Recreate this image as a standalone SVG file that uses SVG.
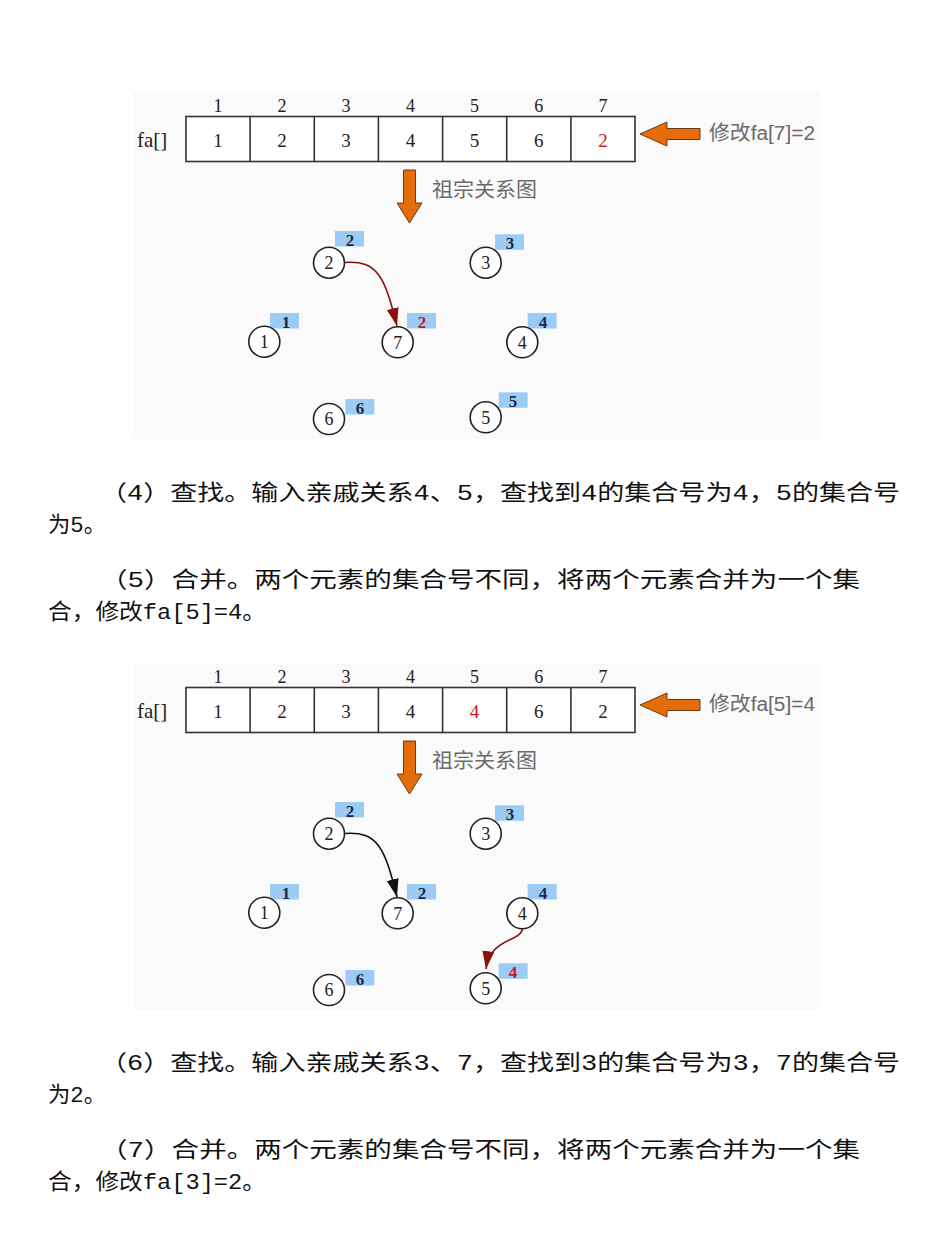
<svg xmlns="http://www.w3.org/2000/svg" width="928" height="1239" viewBox="0 0 928 1239">
<style>
.bg{fill:#fafafa}
.cell{fill:#ffffff;stroke:#333;stroke-width:1.6}
.idx{font-family:"Liberation Serif","DejaVu Serif",serif;font-size:18px;fill:#222;text-anchor:middle}
.val{font-family:"Liberation Serif","DejaVu Serif",serif;font-size:19px;fill:#222;text-anchor:middle}
.red{fill:#c81818}
.fa{font-family:"Liberation Serif","DejaVu Serif",serif;font-size:21px;fill:#222}
.note{font-family:"Liberation Sans","Noto Sans CJK SC",sans-serif;font-size:20px;fill:#6a6a6a}
.oarrow{fill:#e46c0a;stroke:#6b3a10;stroke-width:1}
.circ{fill:#ffffff;stroke:#222;stroke-width:1.6}
.num{font-family:"Liberation Serif","DejaVu Serif",serif;font-size:18px;fill:#222;text-anchor:middle}
.tag{fill:#9ccbf5}
.tagt{font-family:"Liberation Serif","DejaVu Serif",serif;font-size:17px;font-weight:bold;fill:#1c2a48;text-anchor:middle}
.tagr{fill:#c81818}
.edge{fill:none;stroke-width:1.6}
.body{font-family:"Liberation Mono","Noto Sans CJK SC",monospace;font-size:22px;fill:#111}
</style>
<defs>
<marker id="hr" markerUnits="userSpaceOnUse" markerWidth="20" markerHeight="12" refX="18" refY="6" orient="auto">
<path d="M0,0 L18,6 L0,12 z" fill="#8b1010"/>
</marker>
<marker id="hk" markerUnits="userSpaceOnUse" markerWidth="20" markerHeight="12" refX="18" refY="6" orient="auto">
<path d="M0,0 L18,6 L0,12 z" fill="#111"/>
</marker>
</defs>

<!-- Diagram 1 -->
<g id="diagram1">
<rect class="bg" x="133" y="92" width="687" height="347"/>
<g id="d1-array">
<text class="idx" x="218" y="112">1</text>
<text class="idx" x="282" y="112">2</text>
<text class="idx" x="346" y="112">3</text>
<text class="idx" x="410.5" y="112">4</text>
<text class="idx" x="474.6" y="112">5</text>
<text class="idx" x="538.8" y="112">6</text>
<text class="idx" x="603" y="112">7</text>
<text class="fa" x="137" y="147">fa[]</text>
<rect class="cell" x="186" y="116.5" width="449" height="45"/>
<path d="M250.1,116.5V161.5M314.3,116.5V161.5M378.4,116.5V161.5M442.6,116.5V161.5M506.7,116.5V161.5M570.9,116.5V161.5" stroke="#333" stroke-width="1.6" fill="none"/>
<text class="val" x="218" y="147">1</text>
<text class="val" x="282" y="147">2</text>
<text class="val" x="346" y="147">3</text>
<text class="val" x="410.5" y="147">4</text>
<text class="val" x="474.6" y="147">5</text>
<text class="val" x="538.8" y="147">6</text>
<text class="val red" x="603" y="147">2</text>
</g>
<g id="d1-modify">
<polygon class="oarrow" points="640,134 667,122 667,128.5 700,128.5 700,139.5 667,139.5 667,146"/>
<text class="note" x="709" y="140" textLength="106" lengthAdjust="spacingAndGlyphs">修改fa[7]=2</text>
</g>
<g id="d1-down">
<polygon class="oarrow" points="403.5,170 415.5,170 415.5,203 422,203 409.5,223 397,203 403.5,203"/>
<text class="note" x="432" y="197" textLength="105" lengthAdjust="spacingAndGlyphs">祖宗关系图</text>
</g>
<g id="d1-connectors">
<path class="edge" stroke="#8b1010" marker-end="url(#hr)" d="M345,262.5 C378,260 385,278 397,326"/>
</g>
<g id="d1-n2"><rect class="tag" x="335" y="231" width="29" height="15.5"/><text class="tagt" x="350" y="246">2</text><circle class="circ" cx="329" cy="262.7" r="15.5"/><text class="num" x="329" y="269">2</text></g>
<g id="d1-n3"><rect class="tag" x="495" y="234.3" width="29" height="15.5"/><text class="tagt" x="510" y="249">3</text><circle class="circ" cx="485.7" cy="262.7" r="15.5"/><text class="num" x="485.7" y="269">3</text></g>
<g id="d1-n1"><rect class="tag" x="270" y="313" width="29" height="15.5"/><text class="tagt" x="286" y="328">1</text><circle class="circ" cx="264.3" cy="341.7" r="15.5"/><text class="num" x="264.3" y="348">1</text></g>
<g id="d1-n7"><rect class="tag" x="407" y="313" width="29" height="15.5"/><text class="tagt tagr" x="422" y="328">2</text><circle class="circ" cx="397.7" cy="342.3" r="15.5"/><text class="num" x="397.7" y="348.6">7</text></g>
<g id="d1-n4"><rect class="tag" x="527.7" y="313" width="29" height="15.5"/><text class="tagt" x="543" y="328">4</text><circle class="circ" cx="522.3" cy="342.3" r="15.5"/><text class="num" x="522.3" y="348.6">4</text></g>
<g id="d1-n6"><rect class="tag" x="345.3" y="399" width="29" height="15.5"/><text class="tagt" x="360" y="414">6</text><circle class="circ" cx="329" cy="419" r="15.5"/><text class="num" x="329" y="425.3">6</text></g>
<g id="d1-n5"><rect class="tag" x="498.7" y="392.3" width="29" height="15.5"/><text class="tagt" x="513" y="407">5</text><circle class="circ" cx="485.7" cy="417.3" r="15.5"/><text class="num" x="485.7" y="423.6">5</text></g>
</g>

<!-- Text block 1 -->
<g id="text1">
<text class="body" x="100" y="500" textLength="800" lengthAdjust="spacingAndGlyphs">（4）查找。输入亲戚关系4、5，查找到4的集合号为4，5的集合号</text>
<text class="body" x="48" y="532" textLength="58" lengthAdjust="spacingAndGlyphs">为5。</text>
<text class="body" x="100" y="587" textLength="760" lengthAdjust="spacingAndGlyphs">（5）合并。两个元素的集合号不同，将两个元素合并为一个集</text>
<text class="body" x="48" y="619" textLength="218" lengthAdjust="spacingAndGlyphs">合，修改fa[5]=4。</text>
</g>

<!-- Diagram 2 -->
<g id="diagram2" transform="translate(0,571)">
<rect class="bg" x="133" y="92" width="687" height="347"/>
<g id="d2-array">
<text class="idx" x="218" y="112">1</text>
<text class="idx" x="282" y="112">2</text>
<text class="idx" x="346" y="112">3</text>
<text class="idx" x="410.5" y="112">4</text>
<text class="idx" x="474.6" y="112">5</text>
<text class="idx" x="538.8" y="112">6</text>
<text class="idx" x="603" y="112">7</text>
<text class="fa" x="137" y="147">fa[]</text>
<rect class="cell" x="186" y="116.5" width="449" height="45"/>
<path d="M250.1,116.5V161.5M314.3,116.5V161.5M378.4,116.5V161.5M442.6,116.5V161.5M506.7,116.5V161.5M570.9,116.5V161.5" stroke="#333" stroke-width="1.6" fill="none"/>
<text class="val" x="218" y="147">1</text>
<text class="val" x="282" y="147">2</text>
<text class="val" x="346" y="147">3</text>
<text class="val" x="410.5" y="147">4</text>
<text class="val red" x="474.6" y="147">4</text>
<text class="val" x="538.8" y="147">6</text>
<text class="val" x="603" y="147">2</text>
</g>
<g id="d2-modify">
<polygon class="oarrow" points="640,134 667,122 667,128.5 700,128.5 700,139.5 667,139.5 667,146"/>
<text class="note" x="709" y="140" textLength="106" lengthAdjust="spacingAndGlyphs">修改fa[5]=4</text>
</g>
<g id="d2-down">
<polygon class="oarrow" points="403.5,170 415.5,170 415.5,203 422,203 409.5,223 397,203 403.5,203"/>
<text class="note" x="432" y="197" textLength="105" lengthAdjust="spacingAndGlyphs">祖宗关系图</text>
</g>
<g id="d2-connectors">
<path class="edge" stroke="#111" marker-end="url(#hk)" d="M345,262.5 C378,260 385,278 397,326"/>
<path class="edge" stroke="#8b1010" marker-end="url(#hr)" d="M522.5,358 C520,371 490,367 486,398"/>
</g>
<g id="d2-n2"><rect class="tag" x="335" y="231" width="29" height="15.5"/><text class="tagt" x="350" y="246">2</text><circle class="circ" cx="329" cy="262.7" r="15.5"/><text class="num" x="329" y="269">2</text></g>
<g id="d2-n3"><rect class="tag" x="495" y="234.3" width="29" height="15.5"/><text class="tagt" x="510" y="249">3</text><circle class="circ" cx="485.7" cy="262.7" r="15.5"/><text class="num" x="485.7" y="269">3</text></g>
<g id="d2-n1"><rect class="tag" x="270" y="313" width="29" height="15.5"/><text class="tagt" x="286" y="328">1</text><circle class="circ" cx="264.3" cy="341.7" r="15.5"/><text class="num" x="264.3" y="348">1</text></g>
<g id="d2-n7"><rect class="tag" x="407" y="313" width="29" height="15.5"/><text class="tagt" x="422" y="328">2</text><circle class="circ" cx="397.7" cy="342.3" r="15.5"/><text class="num" x="397.7" y="348.6">7</text></g>
<g id="d2-n4"><rect class="tag" x="527.7" y="313" width="29" height="15.5"/><text class="tagt" x="543" y="328">4</text><circle class="circ" cx="522.3" cy="342.3" r="15.5"/><text class="num" x="522.3" y="348.6">4</text></g>
<g id="d2-n6"><rect class="tag" x="345.3" y="399" width="29" height="15.5"/><text class="tagt" x="360" y="414">6</text><circle class="circ" cx="329" cy="419" r="15.5"/><text class="num" x="329" y="425.3">6</text></g>
<g id="d2-n5"><rect class="tag" x="498.7" y="392.3" width="29" height="15.5"/><text class="tagt tagr" x="513" y="407">4</text><circle class="circ" cx="485.7" cy="417.3" r="15.5"/><text class="num" x="485.7" y="423.6">5</text></g>
</g>

<!-- Text block 2 -->
<g id="text2">
<text class="body" x="100" y="1070" textLength="800" lengthAdjust="spacingAndGlyphs">（6）查找。输入亲戚关系3、7，查找到3的集合号为3，7的集合号</text>
<text class="body" x="48" y="1102" textLength="58" lengthAdjust="spacingAndGlyphs">为2。</text>
<text class="body" x="100" y="1157" textLength="760" lengthAdjust="spacingAndGlyphs">（7）合并。两个元素的集合号不同，将两个元素合并为一个集</text>
<text class="body" x="48" y="1189" textLength="218" lengthAdjust="spacingAndGlyphs">合，修改fa[3]=2。</text>
</g>
</svg>
